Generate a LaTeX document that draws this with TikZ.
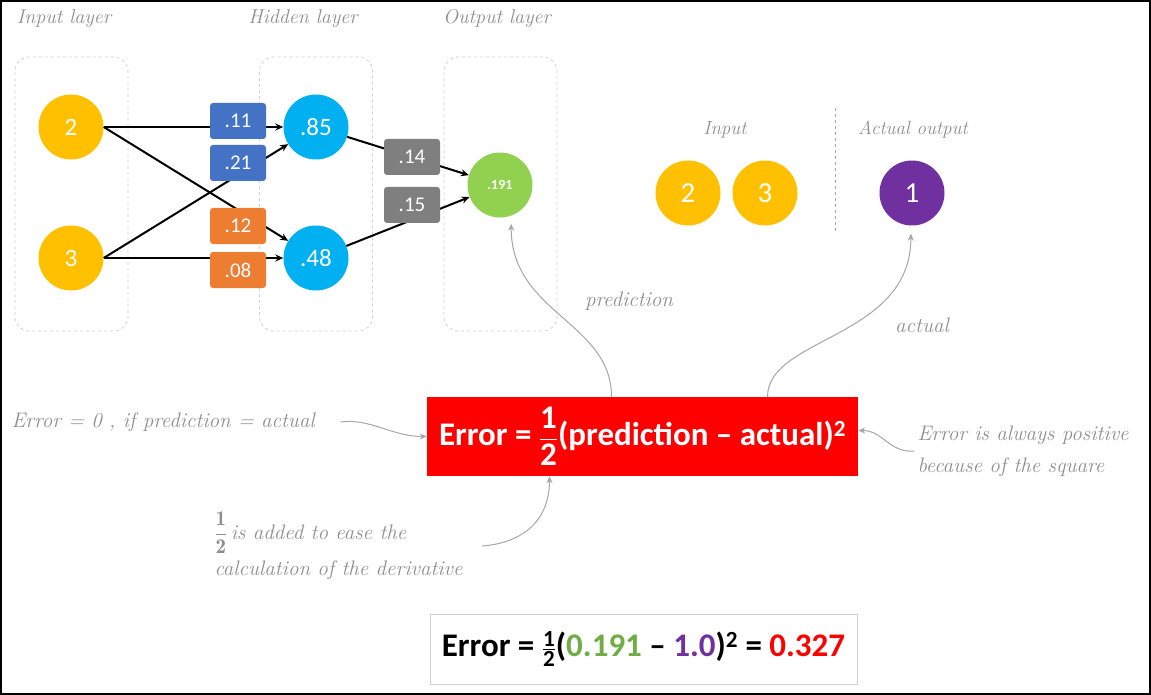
\documentclass[tikz,border=0pt]{standalone}
\usepackage{amsmath}
\usepackage{fontspec}
\usetikzlibrary{arrows.meta, positioning, calc}
\newfontfamily\calibri{Carlito}
\definecolor{inkgold}{HTML}{FFC000}
\definecolor{inksky}{HTML}{00B0F0}
\definecolor{inkleaf}{HTML}{92D050}
\definecolor{inkplum}{HTML}{7030A0}
\definecolor{inkblue}{HTML}{4472C4}
\definecolor{inkorange}{HTML}{ED7D31}
\definecolor{inkslate}{HTML}{7F7F7F}
\definecolor{inkred}{HTML}{FF0000}
\definecolor{inkgreen}{HTML}{70AD47}
\definecolor{inkgrey}{HTML}{A6A6A6}
\definecolor{inkpen}{HTML}{8E8E8E}
\definecolor{inkfaint}{HTML}{D0D0D0}
\newcommand{\half}[1][0]{\genfrac{}{}{1.2pt}{#1}{\text{1}}{\text{2}}}

\begin{document}
\begin{tikzpicture}[x=1pt, y=-1pt, font=\calibri,
  neuron/.style={circle, minimum size=65pt, inner sep=0pt, text=white,
                 font=\calibri\fontsize{25}{25}\selectfont},
  weight/.style={rounded corners=3pt, minimum width=56pt, minimum height=36pt,
                 inner sep=0pt, text=white, font=\calibri\fontsize{21}{21}\selectfont},
  layer/.style={draw=inkfaint, dashed, rounded corners=14pt, line width=0.8pt,
                minimum width=113pt, minimum height=274pt},
  hand/.style={text=inkpen, font=\itshape\fontsize{21}{32}\selectfont},
  wire/.style={line width=2pt, -{Stealth[length=8pt,width=7pt]}},
  note/.style={draw=inkgrey, line width=1pt, -{Stealth[length=7pt,width=6pt]}}]
  \useasboundingbox (0,0) rectangle (1151,695);
  \draw[line width=1.5pt] (1,1) rectangle (1150,694);

  % network
  \foreach \name/\lab/\x in {in/Input layer/64, hid/Hidden layer/303,
                             outl/Output layer/497}{%
    \node[hand, font=\itshape\fontsize{20}{20}\selectfont] (\name title) at (\x,19) {\lab};}
  \node[layer] (inbox) at (71.5,194) {};
  \node[layer] (hidbox) at (316,194) {};
  \node[layer] (outbox) at (500.5,194) {};
  \foreach \name/\val/\y in {i1/2/127, i2/3/258}{%
    \node[neuron, fill=inkgold] (\name) at (71,\y) {\val};}
  \foreach \name/\val/\y in {h1/.85/127, h2/.48/258}{%
    \node[neuron, fill=inksky] (\name) at (316,\y) {\val};}
  \node[neuron, fill=inkleaf, font=\calibri\bfseries\fontsize{14}{14}\selectfont]
    (out) at (500,185) {.191};
  \draw[wire] (i1.east) -- (h1);
  \draw[wire] (i2.east) -- (h1);
  \draw[wire] (i1.east) -- (h2);
  \draw[wire] (i2.east) -- (h2);
  \draw[wire] (h1) -- (out);
  \draw[wire] (h2) -- (out);
  \foreach \name/\val/\col/\x/\y in {w11/.11/inkblue/238/121, w21/.21/inkblue/238/163,
      w12/.12/inkorange/238/226, w22/.08/inkorange/238/270,
      v1/.14/inkslate/412/157, v2/.15/inkslate/412/205}{%
    \node[weight, fill=\col] (\name) at (\x,\y) {\val};}

  % sample
  \node[hand, font=\itshape\fontsize{19}{19}\selectfont] (samplein) at (725,130) {Input};
  \node[hand, font=\itshape\fontsize{19}{19}\selectfont] (sampleout) at (913,130) {Actual output};
  \node[neuron, fill=inkgold, font=\calibri\fontsize{29}{29}\selectfont] (s2) at (688,193) {2};
  \node[neuron, fill=inkgold, font=\calibri\fontsize{29}{29}\selectfont] (s3) at (765,193) {3};
  \node[neuron, fill=inkplum, font=\calibri\fontsize{29}{29}\selectfont] (act) at (912,193) {1};
  \draw[inkgrey, dashed, line width=1pt] (835,108) -- (835,233);

  % loss
  \node[fill=inkred, minimum width=431pt, minimum height=79pt, text=white,
        font=\calibri\bfseries\fontsize{33}{36}\selectfont]
    (err) at (642.5,436.5) {Error = $\half$(prediction – actual)\textsuperscript{2}};
  \node[draw=inkfaint, line width=1pt, minimum width=427pt, minimum height=70pt,
        font=\calibri\bfseries\fontsize{33}{36}\selectfont]
    (calc) at (643.5,649) {Error = $\half[1]$(\textcolor{inkgreen}{0.191} –
      \textcolor{inkplum}{1.0})\textsuperscript{2} = \textcolor{inkred}{0.327}};

  % notes
  \node[hand] (predlab) at (629,301) {prediction};
  \node[hand] (actlab) at (922,325) {actual};
  \node[hand, anchor=west] (zero) at (8,422) {Error = 0 , if prediction = actual};
  \node[hand, anchor=west, align=left] (sq) at (914,451)
    {Error is always positive\\because of the square};
  \node[hand, anchor=west, align=left] (halfnote) at (211,546)
    {$\genfrac{}{}{0.8pt}{0}{\mathbf{1}}{\mathbf{2}}$\,is added to ease the\\[4pt]
     calculation of the derivative};
  \draw[note] ([xshift=-31pt]err.north) .. controls +(0,-75) and +(0,90) .. ([yshift=-8pt]out.-70);
  \draw[note] ([xshift=125pt]err.north) .. controls +(0,-60) and +(0,105) .. ([yshift=-8pt]act.-92);
  \draw[note] ([xshift=22pt]zero.east) .. controls +(30,-4) and +(-35,0) .. (err.west);
  \draw[note] (sq.west) .. controls +(-25,2) and +(25,0) .. ([yshift=6pt]err.east);
  \draw[note] ([xshift=16pt]halfnote.east) .. controls +(40,-3) and +(0,45) .. ([xshift=-93pt]err.south);
\end{tikzpicture}
\end{document}
